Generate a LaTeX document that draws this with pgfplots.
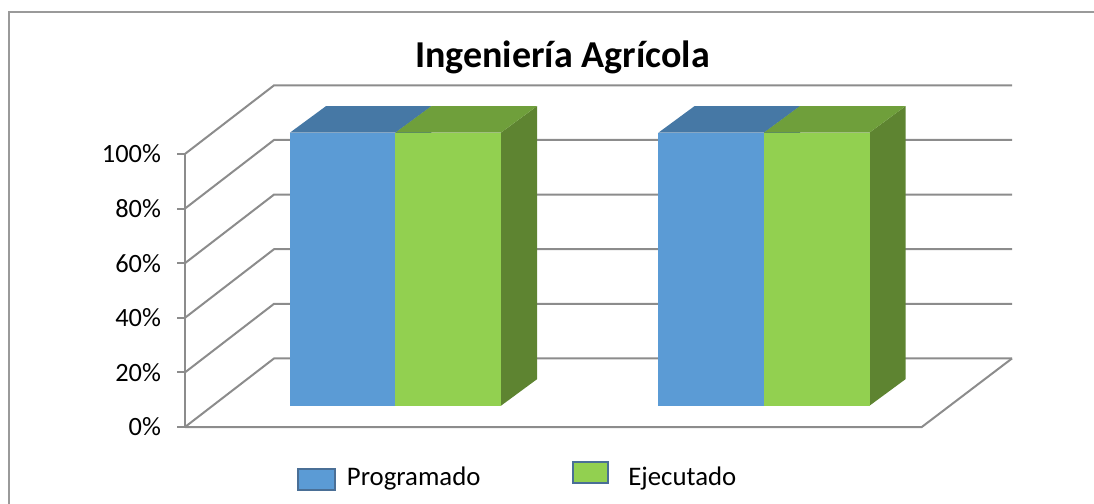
\documentclass[border=0pt]{standalone}
\usepackage{pgfplots}
\pgfplotsset{compat=1.18}
\usepackage{fontspec}
\setmainfont{Carlito}
\definecolor{gridc}{HTML}{8C8C8C}
\definecolor{framec}{HTML}{9A9A9A}
\definecolor{blueF}{HTML}{5B9BD5}
\definecolor{blueT}{HTML}{4678A5}
\definecolor{blueS}{HTML}{41719C}
\definecolor{greenF}{HTML}{92D050}
\definecolor{greenT}{HTML}{6F9F3B}
\definecolor{greenS}{HTML}{5E8431}
\definecolor{legb}{HTML}{4A6F96}
\newcommand\bw{0.2863}
\newcommand\bb{7.8}
\newcommand\ddx{0.0977}
\newcommand\ddy{9.7}
\newcommand\barthreed[5]{%
 \pgfmathsetmacro\xa{#1}%
 \pgfmathsetmacro\xb{#1+\bw}%
 \pgfmathsetmacro\xc{#1+\ddx}%
 \pgfmathsetmacro\xd{#1+\bw+\ddx}%
 \pgfmathsetmacro\ya{\bb}%
 \pgfmathsetmacro\yb{\bb+#2}%
 \pgfmathsetmacro\yc{\bb+\ddy}%
 \pgfmathsetmacro\yd{\bb+#2+\ddy}%
 \addplot[fill=#5, draw=none] coordinates {(\xb,\ya) (\xd,\yc) (\xd,\yd) (\xb,\yb)} -- cycle;
 \addplot[fill=#4, draw=none] coordinates {(\xa,\yb) (\xb,\yb) (\xd,\yd) (\xc,\yd)} -- cycle;
 \addplot[fill=#3, draw=none] coordinates {(\xa,\ya) (\xb,\ya) (\xb,\yb) (\xa,\yb)} -- cycle;
}
\begin{document}
\begin{tikzpicture}
\useasboundingbox (0,0) rectangle (547pt,-252pt);
\begin{scope}[x=0.5pt,y=-0.5pt]
\draw[color=framec, line width=1.2pt] (9,520) -- (9,12) -- (1110,12);
\node[anchor=base, inner sep=0pt, font=\fontsize{19}{23}\selectfont\bfseries] at (562.5,67) {Ingeniería Agrícola};
\draw[draw=legb, line width=1pt, fill=blueF] (297.5,468.5) rectangle (334.5,489.5);
\node[anchor=base west, inner sep=0pt, font=\fontsize{13.4}{16}\selectfont] at (346.5,485) {Programado};
\draw[draw=legb, line width=1pt, fill=greenF] (573,461.5) rectangle (608,482.5);
\node[anchor=base west, inner sep=0pt, font=\fontsize{13.4}{16}\selectfont] at (628,485) {Ejecutado};
\end{scope}
\begin{axis}[at={(92.5pt,-213.5pt)}, anchor=south west, scale only axis,
  width=413.5pt, height=171.5pt,
  xmin=0.4288, xmax=2.6730, ymin=0, ymax=125.6, clip=false,
  axis lines*=left, axis line style={draw=none},
  xtick=\empty, ytick={0,20,40,60,80,100},
  yticklabels={0\%,20\%,40\%,60\%,80\%,100\%},
  tick align=outside, major tick length=4pt,
  tick style={color=gridc, line width=1pt},
  yticklabel style={font=\fontsize{13.2}{15.8}\selectfont, xshift=-4.5pt}]
% back wall / side wall gridlines
\addplot[gridc, line width=1pt] coordinates {(0.4288,0) (0.6703,25.1) (2.6730,25.1)};
\addplot[gridc, line width=1pt] coordinates {(0.4288,20) (0.6703,45.1) (2.6730,45.1)};
\addplot[gridc, line width=1pt] coordinates {(0.4288,40) (0.6703,65.1) (2.6730,65.1)};
\addplot[gridc, line width=1pt] coordinates {(0.4288,60) (0.6703,85.1) (2.6730,85.1)};
\addplot[gridc, line width=1pt] coordinates {(0.4288,80) (0.6703,105.1) (2.6730,105.1)};
\addplot[gridc, line width=1pt] coordinates {(0.4288,100) (0.6703,125.1) (2.6730,125.1)};
% floor
\addplot[gridc, line width=1pt] coordinates {(0.4288,0) (2.4282,0) (2.6730,25.1)};
% vertical axis
\addplot[gridc, line width=1pt] coordinates {(0.4288,0) (0.4288,100)};
% bars: Programado 100, 100 ; Ejecutado 100, 100
\barthreed{0.7137}{100}{blueF}{blueT}{blueS}
\barthreed{1.0000}{100}{greenF}{greenT}{greenS}
\barthreed{1.7137}{100}{blueF}{blueT}{blueS}
\barthreed{2.0000}{100}{greenF}{greenT}{greenS}
\end{axis}
\end{tikzpicture}
\end{document}
